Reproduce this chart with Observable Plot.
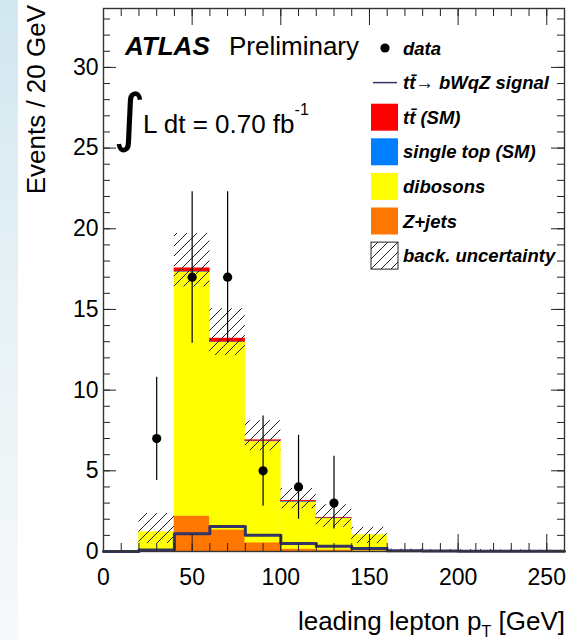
<!DOCTYPE html>
<html><head><meta charset="utf-8">
<script src="https://cdn.jsdelivr.net/npm/d3@7"></script>
<script src="https://cdn.jsdelivr.net/npm/@observablehq/plot@0.6"></script>
<style>
body{margin:0;background:#fff;}
#chart{width:581px;height:640px;}
svg{display:block;}
</style>
</head><body>
<div id="chart"></div>
<script>
// ---- data ----
const binEdges  = [0,20,40,60,80,100,120,140,160,180,200,220,240,260];
const zjets     = [0,0,2.2,1.35,0.55,0.15,0.1,0.05,0,0,0,0,0];
const dibosons  = [0,1.2,15.13,11.63,6.27,2.92,1.95,0.97,0.06,0.05,0.05,0.04,0.03];
const singleTop = [0,0,0.02,0.02,0.03,0.03,0.02,0,0,0,0,0,0];
const ttbarSM   = [0,0,0.2,0.2,0.05,0.05,0.03,0,0,0,0,0,0];
const signal    = [0,0.1,1.1,1.55,1.0,0.5,0.33,0.18,0.05,0.03,0.02,0.02,0.01];
const uncLow    = [0,0.5,16.4,12.15,6.25,2.65,1.5,0.5,0,0,0,0,0];
const uncHigh   = [0,2.35,19.7,15.05,8.1,3.9,2.9,1.5,0.15,0.12,0.12,0.1,0.08];
const dataX     = [30,50,70,90,110,130];
const dataY     = [7,17,17,5,4,3];
const dataLo    = [4.4,12.9,12.9,2.8,2.0,1.4];
const dataHi    = [10.8,22.3,22.3,8.4,7.2,5.9];
const xTickLabels = [0,50,100,150,200,250];
const yTickLabels = [0,5,10,15,20,25,30];
const processes = ["Z+jets","dibosons","single top (SM)","tt\u0304 (SM)"];
const procColors = ["#ff7700","#ffff00","#0080ff","#ff0000"];
const signalColor = "#333366";

// ---- derived tables ----
const series = [zjets, dibosons, singleTop, ttbarSM];
const stackRows = [];
for (let i = 0; i < binEdges.length - 1; i++) {
  processes.forEach((p, k) => {
    if (series[k][i] > 0) stackRows.push({x1: binEdges[i], x2: binEdges[i+1], y: series[k][i], process: p});
  });
}
const bins = d3.range(binEdges.length - 1).map(i => ({x1: binEdges[i], x2: binEdges[i+1], lo: uncLow[i], hi: uncHigh[i]}));
const sigPts = binEdges.map((e, i) => ({x: e, y: signal[Math.min(i, signal.length - 1)]}));
const pts = dataX.map((x, i) => ({x, y: dataY[i], lo: dataLo[i], hi: dataHi[i]}));
const xMinor = d3.range(0, 261, 10), xMajor = xTickLabels;
const yMinor = d3.range(0, 34, 1), yMajor = yTickLabels;

const W = 581, H = 640, mL = 103, mR = 17, mT = 8, mB = 89;
const iw = W - mL - mR, ih = H - mT - mB;

const plot = Plot.plot({
  width: W, height: H,
  marginLeft: mL, marginRight: mR, marginTop: mT, marginBottom: mB,
  x: {domain: [0, 260]},
  y: {domain: [0, 33.65]},
  color: {domain: processes, range: procColors},
  style: {fontFamily: "'Liberation Sans', Arial, sans-serif", fontSize: "23px", background: "transparent", color: "#000"},
  marks: [
    Plot.rectY(stackRows, {x1: "x1", x2: "x2", y: "y", fill: "process", stroke: "process", strokeWidth: 0.4, order: processes}),
    Plot.rect(bins, {x1: "x1", x2: "x2", y1: "lo", y2: "hi", fill: "url(#hatch)"}),
    Plot.line(sigPts, {x: "x", y: "y", curve: "step-after", stroke: signalColor, strokeWidth: 3}),
    Plot.ruleX(pts, {x: "x", y1: "lo", y2: "hi", stroke: "#000", strokeWidth: 1.2}),
    Plot.dot(pts, {x: "x", y: "y", r: 4.6, fill: "#000"}),
    // inward ticks, ROOT style, all four sides
    Plot.ruleY(yMinor, {y: d => d, insetRight: iw - 7, stroke: "#222"}),
    Plot.ruleY(yMajor, {y: d => d, insetRight: iw - 13, stroke: "#222"}),
    Plot.ruleY(yMinor, {y: d => d, insetLeft: iw - 7, stroke: "#222"}),
    Plot.ruleY(yMajor, {y: d => d, insetLeft: iw - 13, stroke: "#222"}),
    Plot.ruleX(xMinor, {x: d => d, insetTop: ih - 8, stroke: "#222"}),
    Plot.ruleX(xMajor, {x: d => d, insetTop: ih - 17, stroke: "#222"}),
    Plot.ruleX(xMinor, {x: d => d, insetBottom: ih - 8, stroke: "#222"}),
    Plot.ruleX(xMajor, {x: d => d, insetBottom: ih - 17, stroke: "#222"}),
    Plot.axisY({ticks: yTickLabels, tickSize: 0, tickPadding: 5, label: null, fontSize: 23}),
    Plot.axisX({ticks: xTickLabels, tickSize: 0, tickPadding: 17, label: null, fontSize: 23}),
    Plot.frame({stroke: "#333", strokeWidth: 1.4})
  ]
});

document.getElementById("chart").appendChild(plot);
const svg = d3.select(plot);

// defs: hatch pattern + left gradient strip
const defs = svg.insert("defs", ":first-child");
const pat = defs.append("pattern").attr("id", "hatch").attr("patternUnits", "userSpaceOnUse")
  .attr("width", 10).attr("height", 10);
pat.append("path").attr("d", "M0,10L10,0M-2.5,2.5L2.5,-2.5M7.5,12.5L12.5,7.5")
  .attr("stroke", "#222").attr("stroke-width", 1);
const lg = defs.append("linearGradient").attr("id", "strip").attr("x1", 0).attr("y1", 0).attr("x2", 0).attr("y2", 1);
lg.append("stop").attr("offset", "0%").attr("stop-color", "#d2e7f0");
lg.append("stop").attr("offset", "45%").attr("stop-color", "#e6f1f5");
lg.append("stop").attr("offset", "100%").attr("stop-color", "#f7f9fa");
svg.insert("rect", "defs + *").attr("x", 0).attr("y", 0).attr("width", 18).attr("height", H).attr("fill", "url(#strip)");

const F = "'Liberation Sans', Arial, sans-serif";
const g = svg.append("g").attr("font-family", F).attr("fill", "#000").attr("text-anchor", "start");

// ATLAS Preliminary
g.append("text").attr("x", 125).attr("y", 55).attr("font-size", 26).attr("font-weight", "bold").attr("font-style", "italic").text("ATLAS");
g.append("text").attr("x", 229).attr("y", 55).attr("font-size", 26).text("Preliminary");

// luminosity
g.append("text").attr("x", 113).attr("y", 139).attr("font-size", 63).attr("font-family", "'DejaVu Sans'").text("\u222B");
const lum = g.append("text").attr("x", 143).attr("y", 133).attr("font-size", 26);
lum.append("tspan").text("L dt = 0.70 fb");
lum.append("tspan").attr("dy", -18).attr("font-size", 16).text("-1");

// legend
const lx = 371, tx = 403, rows = [48, 82.6, 117.2, 151.8, 186.4, 221, 255.6];
const legText = ["data", "tt\u0304\u2192 bWqZ signal", "tt\u0304 (SM)", "single top (SM)", "dibosons", "Z+jets", "back. uncertainty"];
g.append("circle").attr("cx", 385).attr("cy", rows[0]).attr("r", 4.6);
g.append("line").attr("x1", 373).attr("x2", 397).attr("y1", rows[1]).attr("y2", rows[1]).attr("stroke", signalColor).attr("stroke-width", 1.5);
[[processes[3], 2], [processes[2], 3], [processes[1], 4], [processes[0], 5]].forEach(([p, r]) => {
  g.append("rect").attr("x", lx).attr("y", rows[r] - 13.5).attr("width", 27).attr("height", 27)
    .attr("fill", procColors[processes.indexOf(p)]);
});
g.append("rect").attr("x", lx).attr("y", rows[6] - 13.5).attr("width", 27).attr("height", 27)
  .attr("fill", "url(#hatch)").attr("stroke", "#222").attr("stroke-width", 1);
legText.forEach((t, i) => {
  g.append("text").attr("x", tx).attr("y", rows[i] + 6.6).attr("font-size", 18.5)
    .attr("font-weight", "bold").attr("font-style", "italic").text(t);
});

// axis titles
const xt = g.append("text").attr("x", 565).attr("y", 630).attr("text-anchor", "end").attr("font-size", 26);
xt.append("tspan").text("leading lepton p");
xt.append("tspan").attr("dy", 7).attr("font-size", 16).text("T");
xt.append("tspan").attr("dy", -7).text(" [GeV]");
g.append("text").attr("transform", "translate(45,5) rotate(-90)").attr("text-anchor", "end").attr("font-size", 26).text("Events / 20 GeV");
</script>
</body></html>
